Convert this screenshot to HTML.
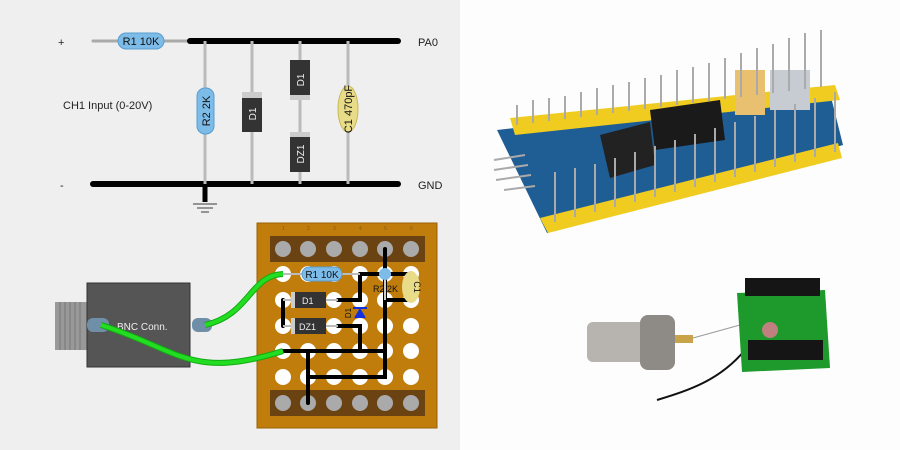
<!DOCTYPE html>
<html><head><style>
html,body{margin:0;padding:0;width:900px;height:450px;overflow:hidden;background:#fff}
text{font-family:"Liberation Sans","DejaVu Sans",sans-serif}
</style></head><body>
<svg width="900" height="450" viewBox="0 0 900 450" xmlns="http://www.w3.org/2000/svg">
<rect x="0" y="0" width="460" height="450" fill="#efefef"/>
<rect x="460" y="0" width="440" height="450" fill="#fdfdfd"/>

<!-- schematic -->
<text x="58" y="46" font-size="11" fill="#222">+</text>
<text x="60" y="189" font-size="11" fill="#222">-</text>
<text x="63" y="109" font-size="11" fill="#222">CH1 Input (0-20V)</text>
<text x="418" y="46" font-size="11" fill="#222">PA0</text>
<text x="418" y="189" font-size="11" fill="#222">GND</text>
<line x1="93" y1="41" x2="190" y2="41" stroke="#aaa" stroke-width="3" stroke-linecap="round"/>
<line x1="190" y1="41" x2="398" y2="41" stroke="#000" stroke-width="6" stroke-linecap="round"/>
<line x1="93" y1="184" x2="398" y2="184" stroke="#000" stroke-width="6" stroke-linecap="round"/>
<rect x="118" y="33" width="46" height="16" rx="8" fill="#7dbbe8" stroke="#5a9ccd"/>
<text x="141" y="45" font-size="11" fill="#111" text-anchor="middle">R1 10K</text>
<g stroke="#bbb" stroke-width="3">
<line x1="205" y1="41" x2="205" y2="184"/><line x1="252" y1="41" x2="252" y2="184"/>
<line x1="300" y1="41" x2="300" y2="184"/><line x1="348" y1="41" x2="348" y2="184"/>
</g>
<line x1="205" y1="184" x2="205" y2="202" stroke="#000" stroke-width="5"/>
<g stroke="#777" stroke-width="1.5"><line x1="193" y1="204" x2="217" y2="204"/><line x1="197" y1="208" x2="213" y2="208"/><line x1="201" y1="212" x2="209" y2="212"/></g>
<rect x="197" y="88" width="17" height="46" rx="8" fill="#7dbbe8" stroke="#5a9ccd"/>
<text transform="translate(210,111) rotate(-90)" font-size="11" text-anchor="middle" fill="#111">R2 2K</text>
<rect x="242" y="92" width="20" height="40" fill="#333"/><rect x="242" y="92" width="20" height="6" fill="#ccc"/>
<text transform="translate(256,114) rotate(-90)" font-size="10" text-anchor="middle" fill="#eee">D1</text>
<rect x="290" y="60" width="20" height="40" fill="#333"/><rect x="290" y="95" width="20" height="5" fill="#ccc"/>
<text transform="translate(304,80) rotate(-90)" font-size="10" text-anchor="middle" fill="#eee">D1</text>
<rect x="290" y="132" width="20" height="40" fill="#333"/><rect x="290" y="132" width="20" height="5" fill="#ccc"/>
<text transform="translate(304,154) rotate(-90)" font-size="10" text-anchor="middle" fill="#eee">DZ1</text>
<ellipse cx="348" cy="109" rx="10" ry="23" fill="#e8dc88" stroke="#c9b85a"/>
<text transform="translate(352,109) rotate(-90)" font-size="11" text-anchor="middle" fill="#111">C1 470pF</text>

<!-- BNC -->
<rect x="55" y="302" width="32" height="48" fill="#999"/>
<g stroke="#777" stroke-width="1"><line x1="60" y1="302" x2="60" y2="350"/><line x1="65" y1="302" x2="65" y2="350"/><line x1="70" y1="302" x2="70" y2="350"/><line x1="75" y1="302" x2="75" y2="350"/><line x1="80" y1="302" x2="80" y2="350"/></g>
<rect x="87" y="283" width="103" height="84" fill="#555" stroke="#333"/>
<rect x="87" y="318" width="22" height="14" rx="6" fill="#6f8fa8"/>
<rect x="192" y="318" width="20" height="14" rx="6" fill="#6f8fa8"/>
<text x="117" y="330" font-size="10" fill="#eee">BNC Conn.</text>

<!-- stripboard -->
<rect x="257" y="223" width="180" height="205" fill="#c07d0c" stroke="#9a6205"/>
<rect x="270" y="236" width="155" height="26" fill="#6b4212"/>
<rect x="270" y="390" width="155" height="26" fill="#6b4212"/>
<g font-size="5" fill="#8a5a10"><text x="282" y="230">1</text><text x="307" y="230">2</text><text x="333" y="230">3</text><text x="359" y="230">4</text><text x="384" y="230">5</text><text x="410" y="230">6</text></g>
<g fill="#aaa">
<circle cx="283" cy="249" r="8"/><circle cx="308" cy="249" r="8"/><circle cx="334" cy="249" r="8"/><circle cx="360" cy="249" r="8"/><circle cx="385" cy="249" r="8"/><circle cx="411" cy="249" r="8"/>
<circle cx="283" cy="403" r="8"/><circle cx="308" cy="403" r="8"/><circle cx="334" cy="403" r="8"/><circle cx="360" cy="403" r="8"/><circle cx="385" cy="403" r="8"/><circle cx="411" cy="403" r="8"/>
</g>
<g fill="#fff">
<circle cx="283" cy="274" r="8"/><circle cx="308" cy="274" r="8"/><circle cx="334" cy="274" r="8"/><circle cx="360" cy="274" r="8"/><circle cx="385" cy="274" r="8"/><circle cx="411" cy="274" r="8"/>
<circle cx="283" cy="300" r="8"/><circle cx="308" cy="300" r="8"/><circle cx="334" cy="300" r="8"/><circle cx="360" cy="300" r="8"/><circle cx="385" cy="300" r="8"/><circle cx="411" cy="300" r="8"/>
<circle cx="283" cy="326" r="8"/><circle cx="308" cy="326" r="8"/><circle cx="334" cy="326" r="8"/><circle cx="360" cy="326" r="8"/><circle cx="385" cy="326" r="8"/><circle cx="411" cy="326" r="8"/>
<circle cx="283" cy="351" r="8"/><circle cx="308" cy="351" r="8"/><circle cx="334" cy="351" r="8"/><circle cx="360" cy="351" r="8"/><circle cx="385" cy="351" r="8"/><circle cx="411" cy="351" r="8"/>
<circle cx="283" cy="377" r="8"/><circle cx="308" cy="377" r="8"/><circle cx="334" cy="377" r="8"/><circle cx="360" cy="377" r="8"/><circle cx="385" cy="377" r="8"/><circle cx="411" cy="377" r="8"/>
</g>
<g stroke="#000" stroke-width="4" fill="none" stroke-linecap="round">
<line x1="385" y1="249" x2="385" y2="300"/>
<polyline points="360,274 411,274"/>
<polyline points="360,274 360,300 338,300"/>
<polyline points="385,300 411,300"/>
<polyline points="283,300 283,326"/>
<polyline points="338,326 360,326 360,351"/>
<polyline points="283,351 385,351"/>
<polyline points="385,300 385,377 308,377"/>
<polyline points="308,351 308,403"/>
</g>
<line x1="283" y1="274" x2="360" y2="274" stroke="#bbb" stroke-width="2"/>
<line x1="385" y1="274" x2="385" y2="300" stroke="#ccc" stroke-width="2"/>
<rect x="302" y="267" width="40" height="14" rx="7" fill="#7dbbe8" stroke="#5a9ccd"/>
<text x="322" y="278" font-size="10" text-anchor="middle" fill="#111">R1 10K</text>
<circle cx="385" cy="274" r="6" fill="#7dbbe8"/>
<text x="373" y="292" font-size="9" fill="#111">R2 2K</text>
<ellipse cx="411" cy="287" rx="9" ry="16" fill="#e8dc88"/>
<text transform="translate(414,287) rotate(90)" font-size="9" text-anchor="middle" fill="#111">C1</text>
<line x1="283" y1="300" x2="338" y2="300" stroke="#bbb" stroke-width="2"/>
<line x1="283" y1="326" x2="338" y2="326" stroke="#bbb" stroke-width="2"/>
<rect x="291" y="292" width="35" height="16" fill="#333"/><rect x="291" y="292" width="4" height="16" fill="#ccc"/>
<text x="302" y="304" font-size="9" fill="#eee">D1</text>
<rect x="291" y="318" width="35" height="16" fill="#333"/><rect x="291" y="318" width="4" height="16" fill="#ccc"/>
<text x="299" y="330" font-size="9" fill="#eee">DZ1</text>
<polygon points="354,318 366,318 360,308" fill="#1030e0"/>
<line x1="353" y1="308" x2="367" y2="308" stroke="#1030e0" stroke-width="2"/>
<text transform="translate(351,313) rotate(-90)" font-size="8" text-anchor="middle" fill="#111">D1</text>
<!-- wires -->
<path d="M205,325 C250,315 250,275 283,274" stroke="#1a1" stroke-width="6" fill="none"/>
<path d="M205,325 C250,315 250,275 283,274" stroke="#2d2" stroke-width="4" fill="none"/>
<path d="M101,325 C180,350 190,380 283,351" stroke="#1a1" stroke-width="6" fill="none"/>
<path d="M101,325 C180,350 190,380 283,351" stroke="#2d2" stroke-width="4" fill="none"/>

<!-- photo 1: blue pill -->
<polygon points="497,130 830,93 843,145 547,233" fill="#1f5d95"/>
<polygon points="510,118 835,85 840,100 515,135" fill="#f0cc20"/>
<polygon points="540,218 838,143 842,158 548,233" fill="#f0cc20"/>
<polygon points="600,135 650,122 655,165 610,178" fill="#222"/>
<polygon points="650,110 720,100 725,140 655,150" fill="#1a1a1a"/>
<rect x="735" y="70" width="30" height="45" fill="#e8c070"/>
<rect x="770" y="70" width="40" height="40" fill="#c7ccd2"/>
<g stroke="#aaa" stroke-width="2">
<line x1="517" y1="125" x2="517" y2="105"/><line x1="533" y1="123" x2="533" y2="100"/><line x1="549" y1="121" x2="549" y2="98"/><line x1="565" y1="119" x2="565" y2="96"/><line x1="581" y1="117" x2="581" y2="92"/><line x1="597" y1="115" x2="597" y2="88"/><line x1="613" y1="113" x2="613" y2="85"/><line x1="629" y1="111" x2="629" y2="82"/><line x1="645" y1="109" x2="645" y2="78"/><line x1="661" y1="107" x2="661" y2="75"/><line x1="677" y1="105" x2="677" y2="70"/><line x1="693" y1="103" x2="693" y2="67"/><line x1="709" y1="101" x2="709" y2="63"/><line x1="725" y1="99" x2="725" y2="58"/><line x1="741" y1="97" x2="741" y2="53"/><line x1="757" y1="95" x2="757" y2="48"/><line x1="773" y1="93" x2="773" y2="44"/><line x1="789" y1="91" x2="789" y2="38"/><line x1="805" y1="89" x2="805" y2="33"/><line x1="821" y1="87" x2="821" y2="30"/>
<line x1="555" y1="222" x2="555" y2="172"/><line x1="575" y1="217" x2="575" y2="168"/><line x1="595" y1="212" x2="595" y2="164"/><line x1="615" y1="207" x2="615" y2="158"/><line x1="635" y1="202" x2="635" y2="152"/><line x1="655" y1="197" x2="655" y2="146"/><line x1="675" y1="192" x2="675" y2="140"/><line x1="695" y1="187" x2="695" y2="134"/><line x1="715" y1="182" x2="715" y2="128"/><line x1="735" y1="177" x2="735" y2="122"/><line x1="755" y1="172" x2="755" y2="116"/><line x1="775" y1="167" x2="775" y2="110"/><line x1="795" y1="162" x2="795" y2="104"/><line x1="815" y1="157" x2="815" y2="98"/><line x1="835" y1="152" x2="835" y2="92"/>
<line x1="494" y1="160" x2="525" y2="155"/><line x1="494" y1="170" x2="528" y2="165"/><line x1="496" y1="180" x2="531" y2="175"/><line x1="504" y1="190" x2="535" y2="186"/>
</g>

<!-- photo 2 -->
<rect x="587" y="322" width="70" height="40" rx="6" fill="#b7b3ae"/>
<rect x="640" y="315" width="35" height="55" rx="8" fill="#8e8a85"/>
<rect x="675" y="335" width="18" height="8" fill="#c9a34a"/>
<path d="M693,338 L740,325" stroke="#999" stroke-width="1" fill="none"/>
<path d="M657,400 C690,390 720,380 745,350" stroke="#111" stroke-width="2" fill="none"/>
<polygon points="737,293 825,290 830,368 742,372" fill="#1e9a2c"/>
<rect x="745" y="278" width="75" height="18" fill="#151515"/>
<rect x="748" y="340" width="75" height="20" fill="#151515"/>
<circle cx="770" cy="330" r="8" fill="#c08080"/>
</svg>
</body></html>
